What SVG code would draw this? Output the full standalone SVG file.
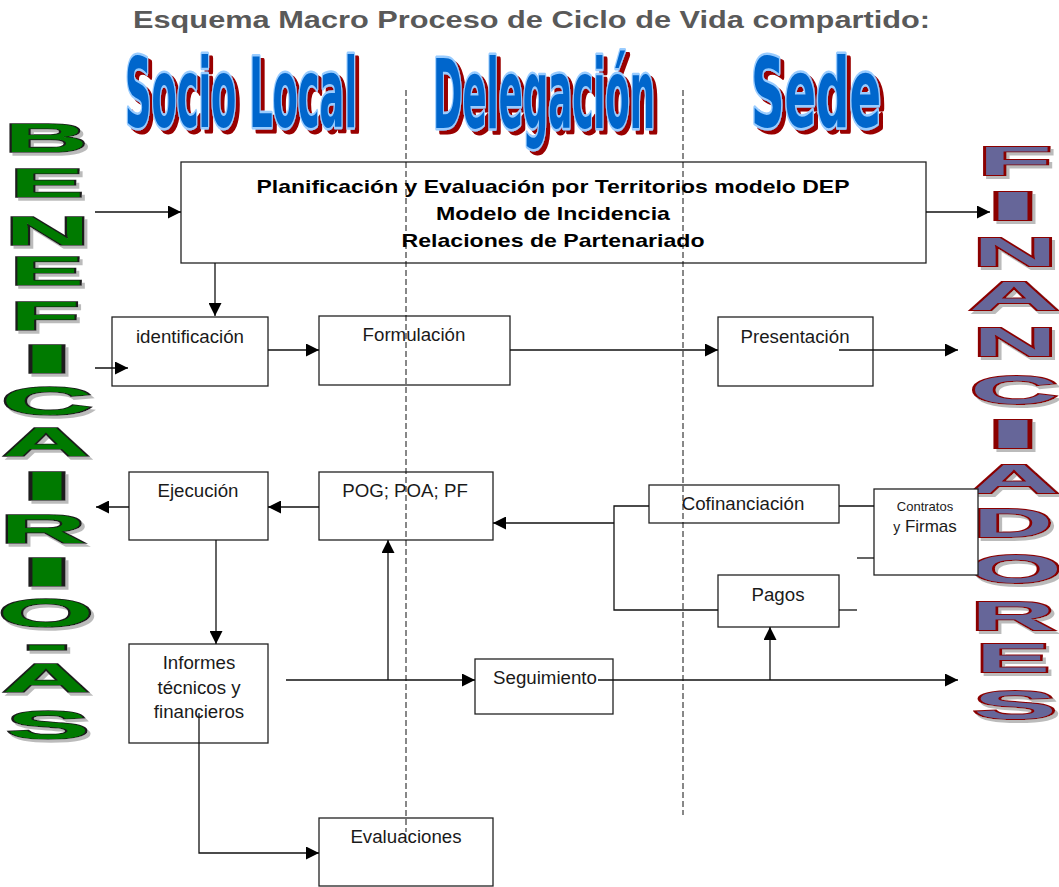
<svg xmlns="http://www.w3.org/2000/svg" width="1059" height="887" viewBox="0 0 1059 887">
<style>
.box{fill:#fff;stroke:#222;stroke-width:1.3}
.lbl{font-family:"Liberation Sans",Arial,sans-serif;font-size:18.7px;fill:#1a1a1a;text-anchor:middle}
.big{font-family:"Liberation Sans",Arial,sans-serif;font-size:19px;font-weight:bold;fill:#000;text-anchor:middle}
.title{font-family:"Liberation Sans",Arial,sans-serif;font-size:23px;font-weight:bold;fill:#595959}
.wa{font-family:"Liberation Sans Narrow","DejaVu Sans Condensed","Liberation Sans",sans-serif;font-weight:bold;font-size:96px;fill:#0066CC;stroke:#99CCFF;stroke-width:5;paint-order:stroke;stroke-linejoin:round}
.gl{font-family:"Liberation Sans",Arial,sans-serif;font-weight:bold;font-size:40px;fill:#007A00;stroke:#1a1a1a;stroke-width:1.6;paint-order:stroke}
.pl{font-family:"Liberation Sans",Arial,sans-serif;font-weight:bold;font-size:40px;fill:#666699;stroke:#8B0000;stroke-width:2;paint-order:stroke}
.con{fill:none;stroke:#111;stroke-width:1.3}
.dash{fill:none;stroke:#111;stroke-width:1;stroke-dasharray:6,3}
</style>
<defs>
<marker id="ah" viewBox="0 0 10 10" refX="10" refY="5" markerWidth="14" markerHeight="13" markerUnits="userSpaceOnUse" orient="auto"><path d="M0,0 L10,5 L0,10 z" fill="#000"/></marker>
<filter id="redsh" x="-10%" y="-10%" width="130%" height="140%">
<feOffset in="SourceAlpha" dx="4" dy="4" result="o"/>
<feFlood flood-color="#990000"/>
<feComposite in2="o" operator="in" result="s"/>
<feMerge><feMergeNode in="s"/><feMergeNode in="SourceGraphic"/></feMerge>
</filter>
<filter id="graysh" x="-20%" y="-20%" width="150%" height="150%">
<feOffset in="SourceAlpha" dx="3" dy="3" result="o"/>
<feFlood flood-color="#bbbbbb"/>
<feComposite in2="o" operator="in" result="s"/>
<feMerge><feMergeNode in="s"/><feMergeNode in="SourceGraphic"/></feMerge>
</filter>
</defs>
<rect width="1059" height="887" fill="#fff"/>

<text class="title" x="133" y="28" textLength="797" lengthAdjust="spacingAndGlyphs">Esquema Macro Proceso de Ciclo de Vida compartido:</text>

<g id="headers" filter="url(#redsh)">
<text class="wa" x="125" y="127" textLength="232" lengthAdjust="spacingAndGlyphs">Socio Local</text>
<text class="wa" x="433" y="128" textLength="222" lengthAdjust="spacingAndGlyphs">Delegación</text>
<text class="wa" x="751" y="127" textLength="130" lengthAdjust="spacingAndGlyphs">Sede</text>
</g>

<g id="beneficiarios" filter="url(#graysh)">
<text class="gl" x="4" y="152" textLength="84" lengthAdjust="spacingAndGlyphs">B</text>
<text class="gl" x="10" y="197" textLength="74" lengthAdjust="spacingAndGlyphs">E</text>
<text class="gl" x="5" y="245" textLength="85" lengthAdjust="spacingAndGlyphs">N</text>
<text class="gl" x="10" y="285" textLength="74" lengthAdjust="spacingAndGlyphs">E</text>
<text class="gl" x="10" y="330" textLength="70" lengthAdjust="spacingAndGlyphs">F</text>
<text class="gl" x="19" y="373" textLength="56" lengthAdjust="spacingAndGlyphs">I</text>
<text class="gl" x="1" y="415" textLength="92" lengthAdjust="spacingAndGlyphs">C</text>
<text class="gl" x="2" y="456" textLength="88" lengthAdjust="spacingAndGlyphs">A</text>
<text class="gl" x="19" y="500" textLength="56" lengthAdjust="spacingAndGlyphs">I</text>
<text class="gl" x="0" y="543" textLength="86" lengthAdjust="spacingAndGlyphs">R</text>
<text class="gl" x="19" y="586" textLength="56" lengthAdjust="spacingAndGlyphs">I</text>
<text class="gl" x="-2" y="627" textLength="96" lengthAdjust="spacingAndGlyphs">O</text>
<text class="gl" x="24" y="658" textLength="46" lengthAdjust="spacingAndGlyphs">-</text>
<text class="gl" x="2" y="692" textLength="88" lengthAdjust="spacingAndGlyphs">A</text>
<text class="gl" x="6" y="739" textLength="84" lengthAdjust="spacingAndGlyphs">S</text>
</g>

<g id="financiadores" filter="url(#graysh)">
<text class="pl" x="978" y="175" textLength="74" lengthAdjust="spacingAndGlyphs">F</text>
<text class="pl" x="985" y="220" textLength="56" lengthAdjust="spacingAndGlyphs">I</text>
<text class="pl" x="973" y="266" textLength="84" lengthAdjust="spacingAndGlyphs">N</text>
<text class="pl" x="969" y="310" textLength="90" lengthAdjust="spacingAndGlyphs">A</text>
<text class="pl" x="973" y="356" textLength="84" lengthAdjust="spacingAndGlyphs">N</text>
<text class="pl" x="970" y="404" textLength="88" lengthAdjust="spacingAndGlyphs">C</text>
<text class="pl" x="985" y="448" textLength="56" lengthAdjust="spacingAndGlyphs">I</text>
<text class="pl" x="969" y="493" textLength="90" lengthAdjust="spacingAndGlyphs">A</text>
<text class="pl" x="973" y="537" textLength="80" lengthAdjust="spacingAndGlyphs">D</text>
<text class="pl" x="970" y="583" textLength="92" lengthAdjust="spacingAndGlyphs">O</text>
<text class="pl" x="971" y="630" textLength="84" lengthAdjust="spacingAndGlyphs">R</text>
<text class="pl" x="976" y="672" textLength="74" lengthAdjust="spacingAndGlyphs">E</text>
<text class="pl" x="973" y="719" textLength="84" lengthAdjust="spacingAndGlyphs">S</text>
</g>

<g id="n-plan"><rect class="box" x="181" y="162" width="745" height="101"/>
<text class="big" x="553" y="193" textLength="593" lengthAdjust="spacingAndGlyphs">Planificación y Evaluación por Territorios modelo DEP</text>
<text class="big" x="553" y="220" textLength="234" lengthAdjust="spacingAndGlyphs">Modelo de Incidencia</text>
<text class="big" x="553" y="247" textLength="303" lengthAdjust="spacingAndGlyphs">Relaciones de Partenariado</text></g>

<g id="n-ident"><rect class="box" x="112" y="317" width="156" height="69"/><text class="lbl" x="190" y="343">identificación</text></g>
<g id="n-form"><rect class="box" x="319" y="316" width="191" height="69"/><text class="lbl" x="414" y="341">Formulación</text></g>
<g id="n-pres"><rect class="box" x="718" y="317" width="155" height="69"/><text class="lbl" x="795" y="343">Presentación</text></g>
<g id="n-ejec"><rect class="box" x="129" y="472" width="139" height="68"/><text class="lbl" x="198" y="497">Ejecución</text></g>
<g id="n-pog"><rect class="box" x="319" y="472" width="174" height="68"/><text class="lbl" x="405" y="497">POG; POA; PF</text></g>
<g id="n-cofi"><rect class="box" x="649" y="485" width="190" height="38"/><text class="lbl" x="743" y="510">Cofinanciación</text></g>
<g id="n-contr"><rect class="box" x="874" y="489" width="104" height="86"/>
<text class="lbl" x="925" y="511" style="font-size:13px">Contratos</text>
<text class="lbl" x="925" y="532" style="font-size:17px"><tspan style="font-size:14px">y</tspan> Firmas</text></g>
<g id="n-pagos"><rect class="box" x="718" y="575" width="121" height="52"/><text class="lbl" x="778" y="601">Pagos</text></g>
<g id="n-inf"><rect class="box" x="129" y="644" width="139" height="99"/>
<text class="lbl" x="199" y="669">Informes</text><text class="lbl" x="199" y="694">técnicos y</text><text class="lbl" x="199" y="718">financieros</text></g>
<g id="n-seg"><rect class="box" x="475" y="659" width="138" height="55"/><text class="lbl" x="545" y="684">Seguimiento</text></g>
<g id="n-eval"><rect class="box" x="319" y="818" width="174" height="68"/><text class="lbl" x="406" y="843">Evaluaciones</text></g>

<g id="lanes">
<path class="dash" d="M406,90 V832"/>
<path class="dash" d="M683,90 V815"/>
</g>

<g id="connectors">
<path class="con" marker-end="url(#ah)" d="M95,212 H181"/>
<path class="con" marker-end="url(#ah)" d="M926,212 H990"/>
<path class="con" marker-end="url(#ah)" d="M215,263 V316"/>
<path class="con" marker-end="url(#ah)" d="M95,368 H128"/>
<path class="con" marker-end="url(#ah)" d="M268,350 H319"/>
<path class="con" marker-end="url(#ah)" d="M510,350 H718"/>
<path class="con" marker-end="url(#ah)" d="M839,350 H958"/>
<path class="con" marker-end="url(#ah)" d="M129,507 H96"/>
<path class="con" marker-end="url(#ah)" d="M319,507 H268"/>
<path class="con" marker-end="url(#ah)" d="M614,523 H493"/>
<path class="con" d="M649,506 H614 V610 H718"/>
<path class="con" d="M839,506 H874"/>
<path class="con" d="M857,558 H874"/>
<path class="con" d="M839,610 H857"/>
<path class="con" marker-end="url(#ah)" d="M770,680 V627"/>
<path class="con" marker-end="url(#ah)" d="M388,680 V540"/>
<path class="con" marker-end="url(#ah)" d="M216,540 V644"/>
<path class="con" marker-end="url(#ah)" d="M286,680 H475"/>
<path class="con" marker-end="url(#ah)" d="M598,680 H958"/>
<path class="con" marker-end="url(#ah)" d="M199,713 V853 H319"/>
</g>
</svg>
